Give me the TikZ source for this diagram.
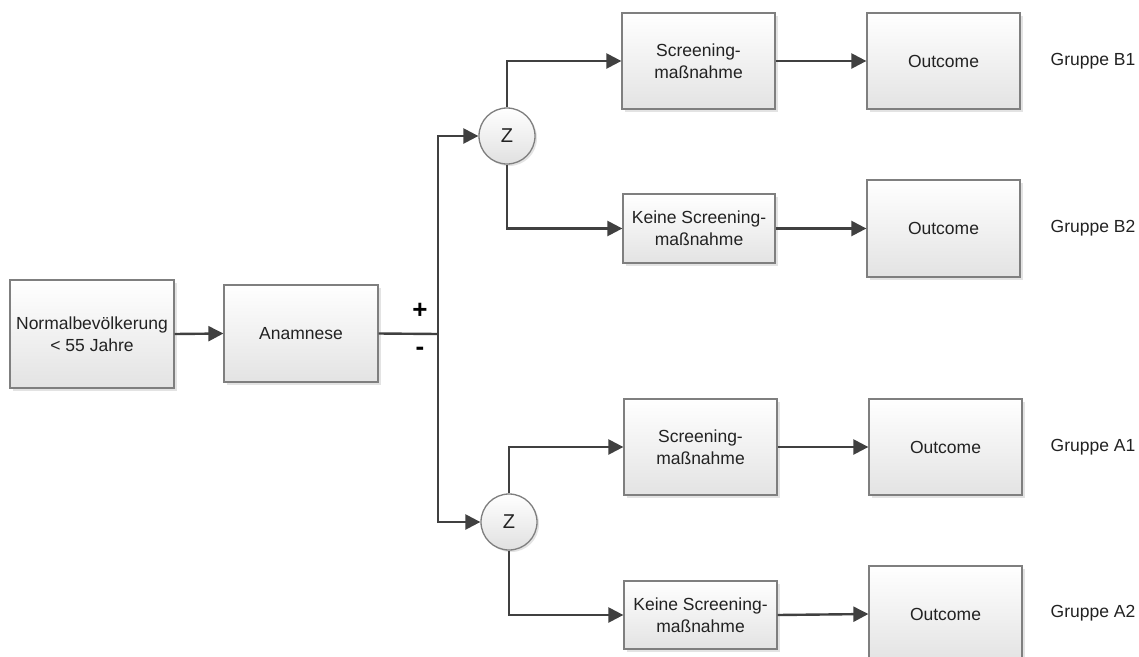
\documentclass[tikz,border=0pt]{standalone}
\usepackage{fontspec}
\setmainfont{Liberation Sans}
\usetikzlibrary{arrows.meta,shadows,shapes.geometric}
\definecolor{linec}{HTML}{404040}
\definecolor{borderc}{HTML}{7F7F7F}
\definecolor{textc}{HTML}{222222}
\tikzset{
  box/.style={draw=borderc, line width=1.3pt, top color=white, bottom color=black!11,
    drop shadow={shadow xshift=2.5pt, shadow yshift=-2.5pt, fill=black!18, opacity=0.6},
    align=center, inner sep=0pt, text=textc, font=\fontsize{17.5}{22}\selectfont},
  zcirc/.style={circle, draw=borderc, line width=1.3pt, top color=white, bottom color=black!12,
    drop shadow={shadow xshift=2pt, shadow yshift=-2pt, fill=black!18, opacity=0.6},
    minimum size=56pt, inner sep=0pt, text=textc, font=\fontsize{20}{22}\selectfont},
  lbl/.style={text=textc, font=\fontsize{17.5}{20}\selectfont, inner sep=0pt},
  sign/.style={text=black, font=\fontsize{26}{28}\selectfont\bfseries, inner sep=0pt},
  conn/.style={draw=linec, line width=2.4pt},
  arr/.style={conn, -{Triangle[length=15pt,width=15pt]}},
}
\begin{document}
\begin{tikzpicture}[x=1pt,y=-1pt]
\clip (0,0) rectangle (1139,656);
\fill[white] (0,0) rectangle (1139,656);
\node[box, minimum width=164pt, minimum height=108pt] (N) at (92,334) {Normalbevölkerung\\< 55 Jahre};
\node[box, minimum width=154pt, minimum height=97pt] (A) at (301,333.5) {Anamnese};
\coordinate (J) at (438,334);
\node[sign] (plus) at (420,311) {+};
\node[sign] (minus) at (420,351) {-};
\node[zcirc] (Z1) at (507,136) {Z};
\node[zcirc] (Z2) at (509,522) {Z};
\node[box, minimum width=153pt, minimum height=96pt] (S1) at (698.5,61) {Screening-\\maßnahme};
\node[box, minimum width=152pt, minimum height=69pt] (K1) at (699,228.5) {Keine Screening-\\maßnahme};
\node[box, minimum width=153pt, minimum height=96pt] (O1) at (943.5,61) {Outcome};
\node[box, minimum width=153pt, minimum height=97pt] (O2) at (943.5,228.5) {Outcome};
\node[box, minimum width=153pt, minimum height=96pt] (S2) at (700.5,447) {Screening-\\maßnahme};
\node[box, minimum width=153pt, minimum height=68pt] (K2) at (700.5,615) {Keine Screening-\\maßnahme};
\node[box, minimum width=153pt, minimum height=96pt] (O3) at (945.5,447) {Outcome};
\node[box, minimum width=153pt, minimum height=96pt] (O4) at (945.5,614) {Outcome};
\node[lbl] (G1) at (1093,61) {Gruppe B1};
\node[lbl] (G2) at (1093,228) {Gruppe B2};
\node[lbl] (G3) at (1093,447) {Gruppe A1};
\node[lbl] (G4) at (1093,613) {Gruppe A2};
\draw[arr] (N.east) -- (A.west);
\draw[conn] (A.east) -- (J);
\draw[arr] (J) |- (Z1.west);
\draw[arr] (J) |- (Z2.west);
\draw[arr] (Z1.north) |- (S1.west);
\draw[arr] (Z1.south) |- (K1.west);
\draw[arr] (Z2.north) |- (S2.west);
\draw[arr] (Z2.south) |- (K2.west);
\draw[arr] (S1.east) -- (O1.west);
\draw[arr] (K1.east) -- (O2.west);
\draw[arr] (S2.east) -- (O3.west);
\draw[arr] (K2.east) -- (O4.west);
\end{tikzpicture}
\end{document}
